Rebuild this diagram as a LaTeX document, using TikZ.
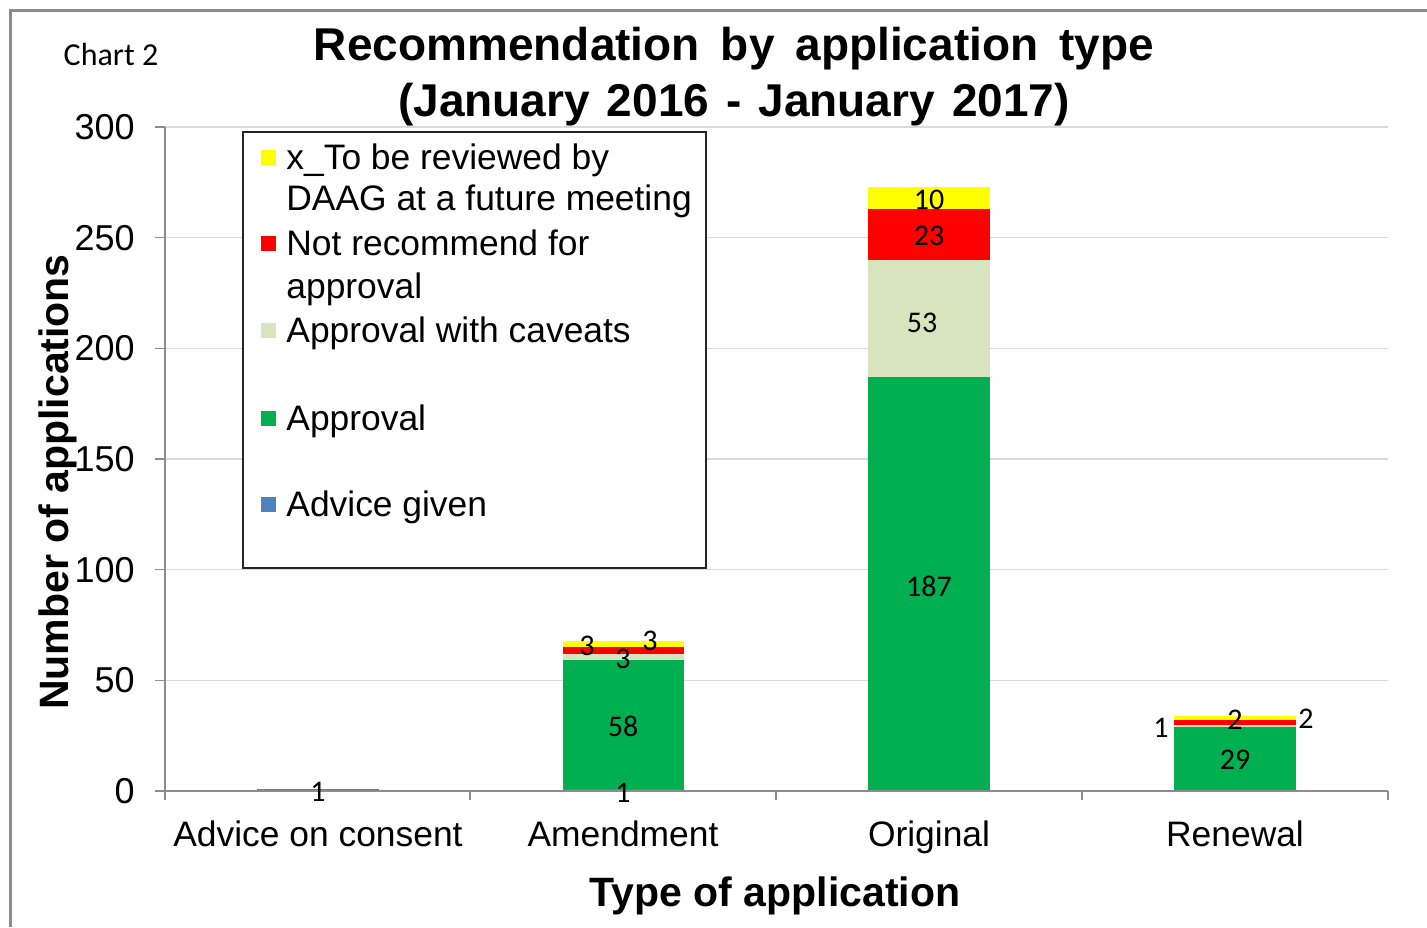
\documentclass[tikz,border=0pt]{standalone}
\usepackage{fontspec}
\setmainfont{Liberation Sans}
\newfontfamily\calibri{Carlito}
\usetikzlibrary{positioning}

\definecolor{colReview}{HTML}{FFFF00}
\definecolor{colNotRec}{HTML}{FF0000}
\definecolor{colCaveat}{HTML}{D7E4BD}
\definecolor{colApprove}{HTML}{00B050}
\definecolor{colAdvice}{HTML}{4F81BD}

\begin{document}
\begin{tikzpicture}[
    x=0.5pt, y=-0.5pt,
    frame/.style={draw=black!45, line width=1.5pt},
    gridline/.style={draw=black!15, line width=0.7pt},
    axisline/.style={draw=black!45, line width=0.8pt},
    ticklbl/.style={font=\fontsize{18}{21}\selectfont, anchor=east, inner sep=0pt},
    catlbl/.style={font=\fontsize{17.7}{21}\selectfont, anchor=base, inner sep=0pt},
    vallbl/.style={font=\calibri\fontsize{15}{18}\selectfont, inner sep=0pt},
    legtext/.style={font=\fontsize{17.7}{21}\selectfont, anchor=base west, inner sep=0pt},
    legkey/.style={minimum size=7.5pt, inner sep=0pt},
    heading/.style={font=\bfseries\fontsize{23}{27}\selectfont, anchor=base, inner sep=0pt}
]
    \useasboundingbox (0,0) rectangle (1427,927);
    \fill[white] (0,0) rectangle (1427,927);
    \draw[frame] (1427,10) -- (10,10) -- (10,927);

    % Headings
    \node[font=\calibri\fontsize{16}{19}\selectfont] (chartno) at (111,55) {Chart 2};
    \node[heading] (title1) at (734,60) {\spaceskip=10.5pt Recommendation by application type};
    \node[heading] (title2) at (734,116) {\spaceskip=8.5pt (January 2016 - January 2017)};

    % Value axis: 1 application = 2.2133px, zero at y=791
    \begin{scope}[shift={(0,791)}, y=1.10667pt]
        \foreach \v in {50,100,...,300}
            \draw[gridline] (165,\v) -- (1388,\v);
        \foreach \v in {0,50,...,300} {
            \draw[axisline] (155,\v) -- (165,\v);
            \node[ticklbl] (tick\v) at (135,\v) {\v};
        }
        \draw[axisline] (165,300) -- (165,0);

        % Advice on consent
        \fill[colAdvice] (257,0) rectangle (379,1);

        % Amendment
        \fill[colAdvice] (563,0) rectangle (684,1);
        \fill[colApprove] (563,1) rectangle (684,59);
        \fill[colCaveat] (563,59) rectangle (684,62);
        \fill[colNotRec] (563,62) rectangle (684,65);
        \fill[colReview] (563,65) rectangle (684,68);

        % Original
        \fill[colApprove] (868,0) rectangle (990,187);
        \fill[colCaveat] (868,187) rectangle (990,240);
        \fill[colNotRec] (868,240) rectangle (990,263);
        \fill[colReview] (868,263) rectangle (990,273);

        % Renewal
        \fill[colApprove] (1174,0) rectangle (1296,29);
        \fill[colCaveat] (1174,29) rectangle (1296,30);
        \fill[colNotRec] (1174,30) rectangle (1296,32);
        \fill[colReview] (1174,32) rectangle (1296,34);
    \end{scope}

    % Category axis
    \draw[axisline] (155,791) -- (1388,791);
    \foreach \x in {165,470,776,1082,1388}
        \draw[axisline] (\x,791) -- (\x,800);

    % Segment values
    \node[vallbl] (vAdv) at (318,792) {1};
    \node[vallbl] (vAmdAdv) at (623,793) {1};
    \node[vallbl] (vAmdApp) at (623,726) {58};
    \node[vallbl] (vAmdCav) at (623,659) {3};
    \node[vallbl] (vAmdNot) at (587,646) {3};
    \node[vallbl] (vAmdRev) at (650,641) {3};
    \node[vallbl] (vOrgApp) at (929,586) {187};
    \node[vallbl] (vOrgCav) at (922,323) {53};
    \node[vallbl] (vOrgNot) at (929,236) {23};
    \node[vallbl] (vOrgRev) at (929,200) {10};
    \node[vallbl] (vRenApp) at (1235,760) {29};
    \node[vallbl] (vRenCav) at (1161,728) {1};
    \node[vallbl] (vRenNot) at (1235,720) {2};
    \node[vallbl] (vRenRev) at (1306,719) {2};

    % Category labels
    \node[catlbl] (catAdv) at (318,846) {Advice on consent};
    \node[catlbl] (catAmd) at (623,846) {Amendment};
    \node[catlbl] (catOrg) at (929,846) {Original};
    \node[catlbl] (catRen) at (1235,846) {Renewal};

    % Axis titles
    \node[font=\bfseries\fontsize{20.5}{24}\selectfont, anchor=base, inner sep=0pt] (xtitle) at (775,906) {Type of application};
    \node[font=\bfseries\fontsize{20.5}{24}\selectfont, rotate=90] (ytitle) at (58,482) {Number of applications};

    % Legend
    \draw[fill=white, draw=black!85, line width=0.7pt] (243,132) rectangle (706,568);
    \node[legkey, fill=colReview] (keyRev) at (268,157) {};
    \node[legkey, fill=colNotRec] (keyNot) at (268,243) {};
    \node[legkey, fill=colCaveat] (keyCav) at (268,330) {};
    \node[legkey, fill=colApprove] (keyApp) at (268,418) {};
    \node[legkey, fill=colAdvice] (keyAdv) at (268,504) {};
    \node[legtext] (legRev1) at (286,169) {x\_To be reviewed by};
    \node[legtext] (legRev2) at (286,210) {DAAG at a future meeting};
    \node[legtext] (legNot1) at (286,255) {Not recommend for};
    \node[legtext] (legNot2) at (286,298) {approval};
    \node[legtext] (legCav) at (286,342) {Approval with caveats};
    \node[legtext] (legApp) at (286,430) {Approval};
    \node[legtext] (legAdv) at (286,516) {Advice given};
\end{tikzpicture}
\end{document}
